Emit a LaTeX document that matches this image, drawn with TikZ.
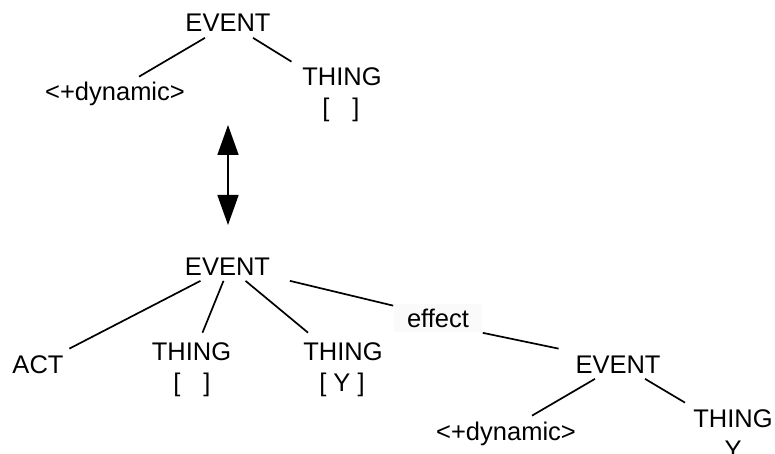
\documentclass[tikz,border=0pt]{standalone}
\usepackage{fontspec}
\setmainfont{Liberation Sans}
\usetikzlibrary{arrows.meta}
\tikzset{>={Triangle[length=30pt,width=21pt]}}

\begin{document}
\begin{tikzpicture}[x = 1pt, y = -1pt, line width = 1.7pt,
    every node/.style = {font = \fontsize{25.5}{30}\selectfont, inner xsep = 0pt, inner ysep = 5pt,
      text height = 18.5pt, text depth = 0pt, anchor = base},
    shaded/.style = {fill = black!2, inner xsep = 13pt}]
  \useasboundingbox (0, 0) rectangle (775, 454);
  % upper tree
  \node (event_top) at (228, 32) {EVENT};
  \node (dynamic_top) at (115, 101) {<+dynamic>};
  \node (thing_top) at (342, 86) {THING};
  \node (slot_top) at (341, 117) {[\hspace{0.9em}]};
  \draw ([xshift = -23pt]event_top.south) -- ([xshift = 24pt]dynamic_top.north);
  \draw ([xshift = 25pt]event_top.south) -- ([xshift = -10pt]thing_top.north west);
  % two-way arrow between the trees
  \coordinate (upper_end) at (228, 125);
  \coordinate (lower_end) at (228, 225);
  \draw[<->] (upper_end) -- (lower_end);
  % lower tree
  \node (event_main) at (227.5, 275) {EVENT};
  \node (act) at (38, 373) {ACT};
  \node (thing_empty) at (191.5, 360) {THING};
  \node (slot_empty) at (192, 391) {[\hspace{0.9em}]};
  \node (thing_y) at (343, 360) {THING};
  \node (slot_y) at (342, 391) {[ Y ]};
  \node[shaded] (effect) at (438, 327) {effect};
  \node (event_effect) at (618, 373) {EVENT};
  \node (dynamic_effect) at (506, 440) {<+dynamic>};
  \node (thing_effect) at (733, 427) {THING};
  \node (y_effect) at (733, 458) {Y};
  \draw ([xshift = -27pt]event_main.south) -- ([xshift = 5pt]act.north east);
  \draw ([xshift = -4pt]event_main.south) -- ([xshift = 11pt, yshift = 3pt]thing_empty.north);
  \draw ([xshift = 18pt]event_main.south) -- ([xshift = -35pt, yshift = 3pt]thing_y.north);
  \draw ([xshift = 19pt]event_main.south east) -- ([yshift = -3pt]effect.north west);
  \draw (effect.south east) -- ([xshift = -16pt]event_effect.north west);
  \draw ([xshift = -23pt]event_effect.south) -- ([xshift = 26pt]dynamic_effect.north);
  \draw ([xshift = 27pt]event_effect.south) -- ([xshift = -48pt]thing_effect.north);
\end{tikzpicture}
\end{document}
